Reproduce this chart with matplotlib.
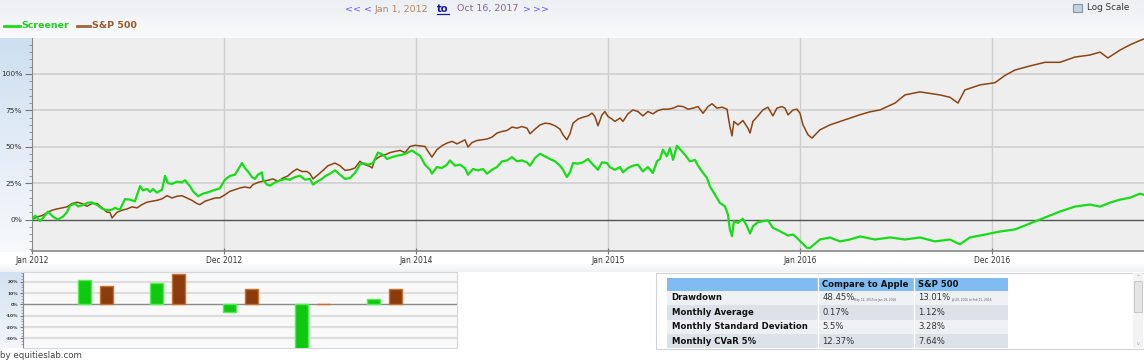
import numpy as np
import matplotlib
matplotlib.use("Agg")
import matplotlib.pyplot as plt
from matplotlib.patches import Rectangle
from matplotlib.colors import to_rgb

# ---------------- data ----------------
# x positions are years since Jan 1, 2012
x_tick_pos = [0, 1, 2, 3, 4, 5]
x_tick_labels = ["Jan 2012", "Dec 2012", "Jan 2014", "Jan 2015", "Jan 2016", "Dec 2016"]
x_end = 5.792  # Oct 16, 2017
y_ticks = [0, 25, 50, 75, 100]
y_tick_labels = ["0%", "25%", "50%", "75%", "100%"]

screener_t = [0.000, 0.016, 0.042, 0.057, 0.083, 0.109, 0.135, 0.161, 0.182, 0.198, 0.224, 0.240,
              0.266, 0.292, 0.313, 0.339, 0.365, 0.391, 0.417, 0.432, 0.458, 0.484, 0.510, 0.536,
              0.563, 0.578, 0.599, 0.615, 0.630, 0.651, 0.677, 0.693, 0.708, 0.729, 0.755, 0.781,
              0.797, 0.823, 0.839, 0.865, 0.891, 0.917, 0.943, 0.969, 0.979, 1.005, 1.031, 1.057,
              1.073, 1.094, 1.109, 1.125, 1.146, 1.161, 1.177, 1.198, 1.203, 1.224, 1.240, 1.266,
              1.292, 1.318, 1.344, 1.370, 1.396, 1.422, 1.448, 1.464, 1.484, 1.510, 1.526, 1.552,
              1.578, 1.604, 1.630, 1.656, 1.682, 1.708, 1.724, 1.750, 1.776, 1.802, 1.828, 1.849,
              1.875, 1.901, 1.927, 1.953, 1.979, 1.995, 2.021, 2.047, 2.073, 2.083, 2.109, 2.135,
              2.161, 2.177, 2.203, 2.229, 2.255, 2.271, 2.297, 2.323, 2.349, 2.370, 2.396, 2.422,
              2.448, 2.474, 2.500, 2.526, 2.552, 2.578, 2.594, 2.620, 2.646, 2.672, 2.698, 2.724,
              2.750, 2.766, 2.786, 2.802, 2.818, 2.844, 2.870, 2.896, 2.922, 2.948, 2.969, 2.995,
              3.010, 3.036, 3.063, 3.078, 3.104, 3.130, 3.156, 3.182, 3.208, 3.234, 3.255, 3.271,
              3.286, 3.307, 3.323, 3.339, 3.359, 3.375, 3.401, 3.427, 3.453, 3.469, 3.490, 3.516,
              3.531, 3.547, 3.568, 3.583, 3.609, 3.625, 3.635, 3.646, 3.656, 3.677, 3.703, 3.724,
              3.740, 3.755, 3.781, 3.807, 3.833, 3.859, 3.885, 3.911, 3.938, 3.964, 3.984, 4.010,
              4.036, 4.052, 4.104, 4.156, 4.208, 4.260, 4.313, 4.391, 4.469, 4.547, 4.625, 4.703,
              4.781, 4.833, 4.885, 4.964, 5.042, 5.120, 5.198, 5.276, 5.354, 5.432, 5.510, 5.563,
              5.615, 5.667, 5.719, 5.771, 5.792]
screener_v = [0, 2.7, -1, 1, 5.5, 2, 0, 2, 5, 9.6, 11, 9,
              10, 11.6, 11.8, 10, 7.5, 6.4, 6.8, 8, 6.8, 14, 13.7, 12.5,
              23, 20, 21, 19, 21, 18.5, 20.5, 30, 25, 24.5, 26, 25.5,
              27, 22.8, 19.4, 16, 17.8, 18.7, 20, 21, 21.5, 27.4, 30, 30.8,
              34.2, 38.8, 35.4, 33, 29.2, 27.9, 30.8, 32.4, 27.4, 24, 23.3, 25.5,
              26.9, 27.9, 27.4, 29.2, 30.1, 27.4, 27.9, 24, 26, 27.9, 29.7, 31.5,
              33.8, 30.8, 27.9, 28.5, 32, 37.7, 38.8, 37.7, 38.8, 46, 44.5, 41.6,
              42.9, 43.8, 44.5, 45.7, 47.5, 46, 43.8, 37.7, 34.2, 31.5, 36.1, 35.4,
              37.7, 40.6, 37, 37.7, 35.4, 30.8, 34.7, 33.8, 34.7, 31.5, 34.2, 36.1,
              40, 40.6, 42.9, 40, 40.6, 39.3, 37, 42.3, 45.2, 43.4, 41.6, 40,
              37, 34.2, 29.2, 32.4, 38.8, 38.4, 39.3, 41.6, 37.7, 34.2, 39.3, 38.8,
              36, 34.2, 36.1, 32.4, 35.4, 37, 37.7, 33, 36.1, 32, 40, 41.6,
              48, 43.4, 49.1, 41, 50.7, 48.4, 44.5, 40, 41, 37, 33, 28.5,
              22.8, 19.4, 14.8, 11.4, 9.1, 3.4, -6.8, -11.4, -1.1, -2.3, 0.5, -4.6,
              -9.6, -4.6, -1.8, -1.1, -0.5, -5.7, -7.3, -9.1, -11, -10.3, -12.6, -16,
              -19.4, -19.5, -13.7, -12.3, -15, -13.7, -11.6, -13.7, -12.3, -13.7, -12.3, -15,
              -13.7, -17, -12.3, -10.3, -8.2, -6.8, -2.7, 1.4, 5.5, 8.9, 10.3, 8.9,
              11.6, 13.7, 15, 17.8, 17]

sp500_t = [0.000, 0.026, 0.052, 0.078, 0.104, 0.130, 0.156, 0.182, 0.208, 0.234, 0.260, 0.286,
           0.313, 0.339, 0.365, 0.391, 0.406, 0.417, 0.443, 0.469, 0.495, 0.521, 0.547, 0.573,
           0.599, 0.625, 0.651, 0.677, 0.703, 0.729, 0.755, 0.781, 0.807, 0.833, 0.859, 0.875,
           0.901, 0.927, 0.953, 0.979, 1.005, 1.031, 1.057, 1.083, 1.109, 1.135, 1.151, 1.177,
           1.203, 1.229, 1.255, 1.281, 1.307, 1.333, 1.359, 1.380, 1.406, 1.432, 1.448, 1.464,
           1.490, 1.516, 1.542, 1.578, 1.604, 1.630, 1.656, 1.682, 1.708, 1.734, 1.760, 1.771,
           1.786, 1.813, 1.839, 1.865, 1.891, 1.917, 1.943, 1.969, 1.995, 2.021, 2.047, 2.063,
           2.083, 2.109, 2.135, 2.161, 2.188, 2.214, 2.240, 2.255, 2.271, 2.292, 2.318, 2.344,
           2.370, 2.396, 2.422, 2.448, 2.474, 2.500, 2.526, 2.552, 2.578, 2.594, 2.620, 2.646,
           2.672, 2.698, 2.724, 2.750, 2.766, 2.786, 2.802, 2.818, 2.844, 2.870, 2.896, 2.917,
           2.932, 2.948, 2.969, 2.984, 3.000, 3.021, 3.036, 3.063, 3.078, 3.104, 3.130, 3.156,
           3.182, 3.208, 3.234, 3.260, 3.286, 3.313, 3.339, 3.365, 3.391, 3.417, 3.443, 3.469,
           3.495, 3.521, 3.542, 3.568, 3.594, 3.620, 3.635, 3.646, 3.656, 3.677, 3.703, 3.729,
           3.740, 3.755, 3.781, 3.807, 3.833, 3.859, 3.880, 3.906, 3.922, 3.938, 3.964, 3.984,
           4.000, 4.016, 4.042, 4.063, 4.104, 4.156, 4.234, 4.313, 4.365, 4.417, 4.495, 4.547,
           4.625, 4.729, 4.781, 4.823, 4.859, 4.938, 5.016, 5.068, 5.120, 5.198, 5.276, 5.354,
           5.432, 5.510, 5.563, 5.604, 5.667, 5.719, 5.771, 5.792]
sp500_v = [0, 1.8, 2.7, 4.6, 6.4, 7.3, 8, 8.7, 11, 11.9, 11, 9.1,
           11, 11, 8, 5, 5, 1.1, 5, 6.4, 7.3, 8.7, 8, 10.3,
           11.9, 12.6, 13.2, 14.2, 16.4, 14.8, 16, 16.4, 14.8, 13.2, 11, 10.3,
           12.6, 13.7, 14.8, 15, 17, 19.4, 20.5, 21.7, 22.4, 21.7, 24, 25.5,
           26.3, 27, 27.9, 26.3, 28.5, 30, 33, 34.7, 33, 33, 31.5, 27.9,
           30.8, 33.8, 37, 38.8, 37, 33.8, 34.2, 35.4, 40, 37.7, 36.5, 35.4,
           41, 43.4, 44.5, 46, 46.8, 47.5, 46, 50.2, 51, 50.6, 50.2, 46.8,
           42.9, 48, 50.7, 52.5, 53.7, 52, 53.7, 54.8, 49.8, 52.9, 54.3, 54.8,
           55.3, 56.6, 59.4, 60.5, 61.2, 63.5, 62.8, 63.9, 62.8, 58.9, 62.1, 65,
           66.2, 65.8, 64.4, 62.1, 58.2, 54.8, 58.9, 66.2, 69, 70.3, 71.2, 73.1,
           70.8, 64.4, 71.9, 74.2, 70.8, 69, 67.4, 69.7, 67.4, 72.6, 75.3, 74.2,
           71.2, 74.2, 72.6, 74.9, 75.8, 75.8, 76.5, 78, 77.6, 75.8, 76.5, 77.6,
           73, 77.6, 79.5, 76.5, 77.2, 75.8, 63.9, 57.5, 67.4, 65, 68, 62.8,
           59.4, 67.4, 71.2, 75.3, 77.2, 71.2, 76.5, 77.6, 76.5, 71.9, 75.3, 75.8,
           73.1, 65, 58.2, 56, 61.6, 65, 68.5, 72, 74, 75.3, 80, 85.6,
           87.7, 85.6, 84, 80, 89, 92.5, 94, 99, 102.7, 105.5, 108, 108,
           111.6, 113, 115, 111, 116.4, 120, 123, 124]

bar_groups = [1, 2, 3, 4, 5]
bar_screener = [21.5, 18.5, -6.5, -40, 4.5]
bar_sp500 = [16.5, 27, 14, 0.3, 14]
bar_ticks = [20, 10, 0, -10, -20, -30]
bar_tick_labels = ["20%", "10%", "0%", "-10%", "-20%", "-30%"]

table_header = ["", "Compare to Apple", "S&P 500"]
table_rows = ["Drawdown", "Monthly Average", "Monthly Standard Deviation", "Monthly CVaR 5%"]
table_screener = ["48.45%", "0.17%", "5.5%", "12.37%"]
table_sp500 = ["13.01%", "1.12%", "3.28%", "7.64%"]
table_notes = ["May 12, 2015 to Jan 19, 2016", "Jul 20, 2015 to Feb 11, 2016"]

GREEN = "#18dc18"
BROWN = "#8b4513"

# ---------------- figure ----------------
W, H = 1144, 362
fig = plt.figure(figsize=(W / 100, H / 100), dpi=100)
fig.patch.set_facecolor("white")


def rect(x0, y0, x1, y1):
    return [x0 / W, 1 - y1 / H, (x1 - x0) / W, (y1 - y0) / H]


bg = fig.add_axes([0, 0, 1, 1], zorder=0)
bg.set_xlim(0, W)
bg.set_ylim(H, 0)
bg.axis("off")


def vgrad(x0, x1, y0, y1, ctop, cbot, z=0):
    a = np.array(to_rgb(ctop))
    b = np.array(to_rgb(cbot))
    f = np.linspace(0, 1, 64)[:, None]
    arr = (a * (1 - f) + b * f)[:, None, :]
    bg.imshow(arr, extent=(x0, x1, y1, y0), aspect="auto", interpolation="bilinear", zorder=z)


# header strip & side gradients
vgrad(0, W, 0, 38, "#eceff3", "#f9fafb")
vgrad(0, 32, 38, 252, "#cddff0", "#f7f9fb")
vgrad(0, W, 262, 272, "#ffffff", "#eef1f5")
vgrad(0, 23, 272, 348, "#d3e2f0", "#f3f6f9", z=1)
bg.set_xlim(0, W)
bg.set_ylim(H, 0)

# navigation text
nav_y = 9
NFS = 6.8
bg.text(345, nav_y, "<<", color="#5a5af0", fontsize=NFS, va="center", ha="left")
bg.text(364, nav_y, "<", color="#5a5af0", fontsize=NFS, va="center", ha="left")
bg.text(375, nav_y, "Jan 1, 2012", color="#b08a62", fontsize=NFS, va="center", ha="left")
bg.text(437, nav_y, "to", color="#1a1aa8", fontsize=7.2, fontweight="bold", va="center", ha="left")
bg.plot([437, 449], [14, 14], color="#1a1aa8", lw=0.9)
bg.text(457, nav_y, "Oct 16, 2017", color="#8a6690", fontsize=NFS, va="center", ha="left")
bg.text(523, nav_y, ">", color="#5a5af0", fontsize=NFS, va="center", ha="left")
bg.text(533, nav_y, ">>", color="#5a5af0", fontsize=NFS, va="center", ha="left")

# log scale checkbox
bg.add_patch(Rectangle((1073, 3.5), 9, 8, facecolor="#c5d2de", edgecolor="#8796a6", lw=0.8))
bg.text(1087, 8, "Log Scale", color="#333333", fontsize=6.3, va="center", ha="left")

# legend
bg.plot([4, 20], [26, 26], color=GREEN, lw=2)
bg.text(21, 26, "Screener", color="#22cc22", fontsize=6.8, fontweight="bold", va="center", ha="left")
bg.plot([77, 90], [26, 26], color="#a0643c", lw=2)
bg.text(92, 26, "S&P 500", color="#9a5a2a", fontsize=6.8, fontweight="bold", va="center", ha="left")

# ---------------- main chart ----------------
ax = fig.add_axes(rect(32, 38, 1144, 251), zorder=2)
ax.set_facecolor("#eeeeee")
ax.set_xlim(0, x_end)
ax.set_ylim(-21.6, 124.7)
for yv in y_ticks[1:]:
    ax.axhline(yv, color="#cfcfcf", lw=1.2, zorder=1)
for xv in x_tick_pos[1:]:
    ax.axvline(xv, color="#cfcfcf", lw=1.0, zorder=1)
ax.axhline(0, color="#555555", lw=1.0, zorder=2)
ax.plot(sp500_t, sp500_v, color=BROWN, lw=1.1, zorder=3)
ax.plot(screener_t, screener_v, color=GREEN, lw=1.6, zorder=4)
ax.set_xticks(x_tick_pos)
ax.set_xticklabels(x_tick_labels)
ax.set_yticks(y_ticks)
ax.set_yticklabels(y_tick_labels)
ax.set_yticks(np.arange(-20, 125, 5), minor=True)
ax.tick_params(axis="y", which="major", length=5, color="#777777", labelsize=5.4, labelcolor="#333333", pad=2)
ax.tick_params(axis="y", which="minor", length=2.5, color="#888888")
ax.tick_params(axis="x", which="major", length=5, direction="inout", color="#777777", labelsize=5.5,
               labelcolor="#333333", pad=1)
for s in ["top", "right"]:
    ax.spines[s].set_visible(False)
ax.spines["left"].set_color("#888888")
ax.spines["bottom"].set_color("#888888")
ax.spines["bottom"].set_linewidth(1.2)

# ---------------- bar panel ----------------
bx = fig.add_axes(rect(23, 272, 457, 348), zorder=2)
bx.set_facecolor("#f9f9f9")
bx.set_xlim(0, 6)
bx.set_ylim(-38.4, 28.6)
for yv in bar_ticks:
    if yv != 0:
        bx.axhline(yv, color="#dedede", lw=1.6, zorder=1)
bx.axhline(0, color="#8a8a8a", lw=1.0, zorder=2)
gx = np.array(bar_groups, dtype=float)
bx.bar(gx - 0.15, bar_screener, width=0.18, color="#0fc80f", edgecolor="#50f050", lw=1.0, zorder=3)
bx.bar(gx + 0.155, bar_sp500, width=0.18, color="#8a3c0c", edgecolor="#c8702c", lw=1.0, zorder=3)
bx.set_yticks(bar_ticks)
bx.set_yticklabels(bar_tick_labels)
bx.set_yticks(np.arange(-35, 30, 2.5), minor=True)
bx.set_xticks([])
bx.tick_params(axis="y", which="major", length=2.5, labelsize=3.2, labelcolor="#333333", pad=1, color="#777777")
bx.tick_params(axis="y", which="minor", length=1.2, color="#999999")
for lab in bx.get_yticklabels():
    lab.set_fontweight("bold")
for s in ["top", "right", "bottom"]:
    bx.spines[s].set_color("#d4d8dc")
bx.spines["left"].set_color("#888888")

bg.text(0, 355, "by equitieslab.com", color="#444444", fontsize=6.2, va="center", ha="left")

# ---------------- table panel ----------------
bg.add_patch(Rectangle((656, 272.5), 488, 76, facecolor="white", edgecolor="#cfd3d8", lw=0.8, zorder=2))
# scrollbar
bg.add_patch(Rectangle((1133, 273), 10, 75, facecolor="#f3f3f3", edgecolor="none", zorder=3))
bg.add_patch(Rectangle((1134, 281), 8, 31, facecolor="#e4e4e4", edgecolor="#c2c2c2", lw=0.6, zorder=4))
bg.text(1138, 276.5, "^", fontsize=4, color="#aaaaaa", ha="center", va="center", zorder=4)
bg.text(1138, 343.5, "v", fontsize=3.5, color="#aaaaaa", ha="center", va="center", zorder=4)

col_x = [667, 818, 914, 1008]
row_y = [278, 291, 305, 319.5, 334, 348]
row_colors = ["#80bcf2", "#eef0f4", "#dde2e9", "#eef0f4", "#dde2e9"]
for r in range(5):
    bg.add_patch(Rectangle((col_x[0], row_y[r]), col_x[3] - col_x[0], row_y[r + 1] - row_y[r],
                           facecolor=row_colors[r], edgecolor="none", zorder=3))
for cx in col_x[1:3]:
    bg.plot([cx, cx], [278, 348], color="white", lw=1.0, zorder=4)

TFS = 6.1
hy = (row_y[0] + row_y[1]) / 2
bg.text(col_x[1] + 4.5, hy, table_header[1], fontsize=TFS, fontweight="bold", color="#111111",
        va="center", ha="left", zorder=5)
bg.text(col_x[2] + 4.5, hy, table_header[2], fontsize=TFS, fontweight="bold", color="#111111",
        va="center", ha="left", zorder=5)
for i, name in enumerate(table_rows):
    cy = (row_y[i + 1] + row_y[i + 2]) / 2
    bg.text(col_x[0] + 4.5, cy, name, fontsize=TFS, fontweight="bold", color="#111111",
            va="center", ha="left", zorder=5)
    bg.text(col_x[1] + 4.5, cy, table_screener[i], fontsize=TFS, color="#333333",
            va="center", ha="left", zorder=5)
    bg.text(col_x[2] + 4.5, cy, table_sp500[i], fontsize=TFS, color="#333333",
            va="center", ha="left", zorder=5)
ny = (row_y[1] + row_y[2]) / 2 + 1.5
bg.text(854.5, ny, table_notes[0], fontsize=2.1, color="#555555", va="center", ha="left", zorder=5)
bg.text(951.5, ny, table_notes[1], fontsize=2.1, color="#555555", va="center", ha="left", zorder=5)

fig.savefig("out.png", dpi=100)
